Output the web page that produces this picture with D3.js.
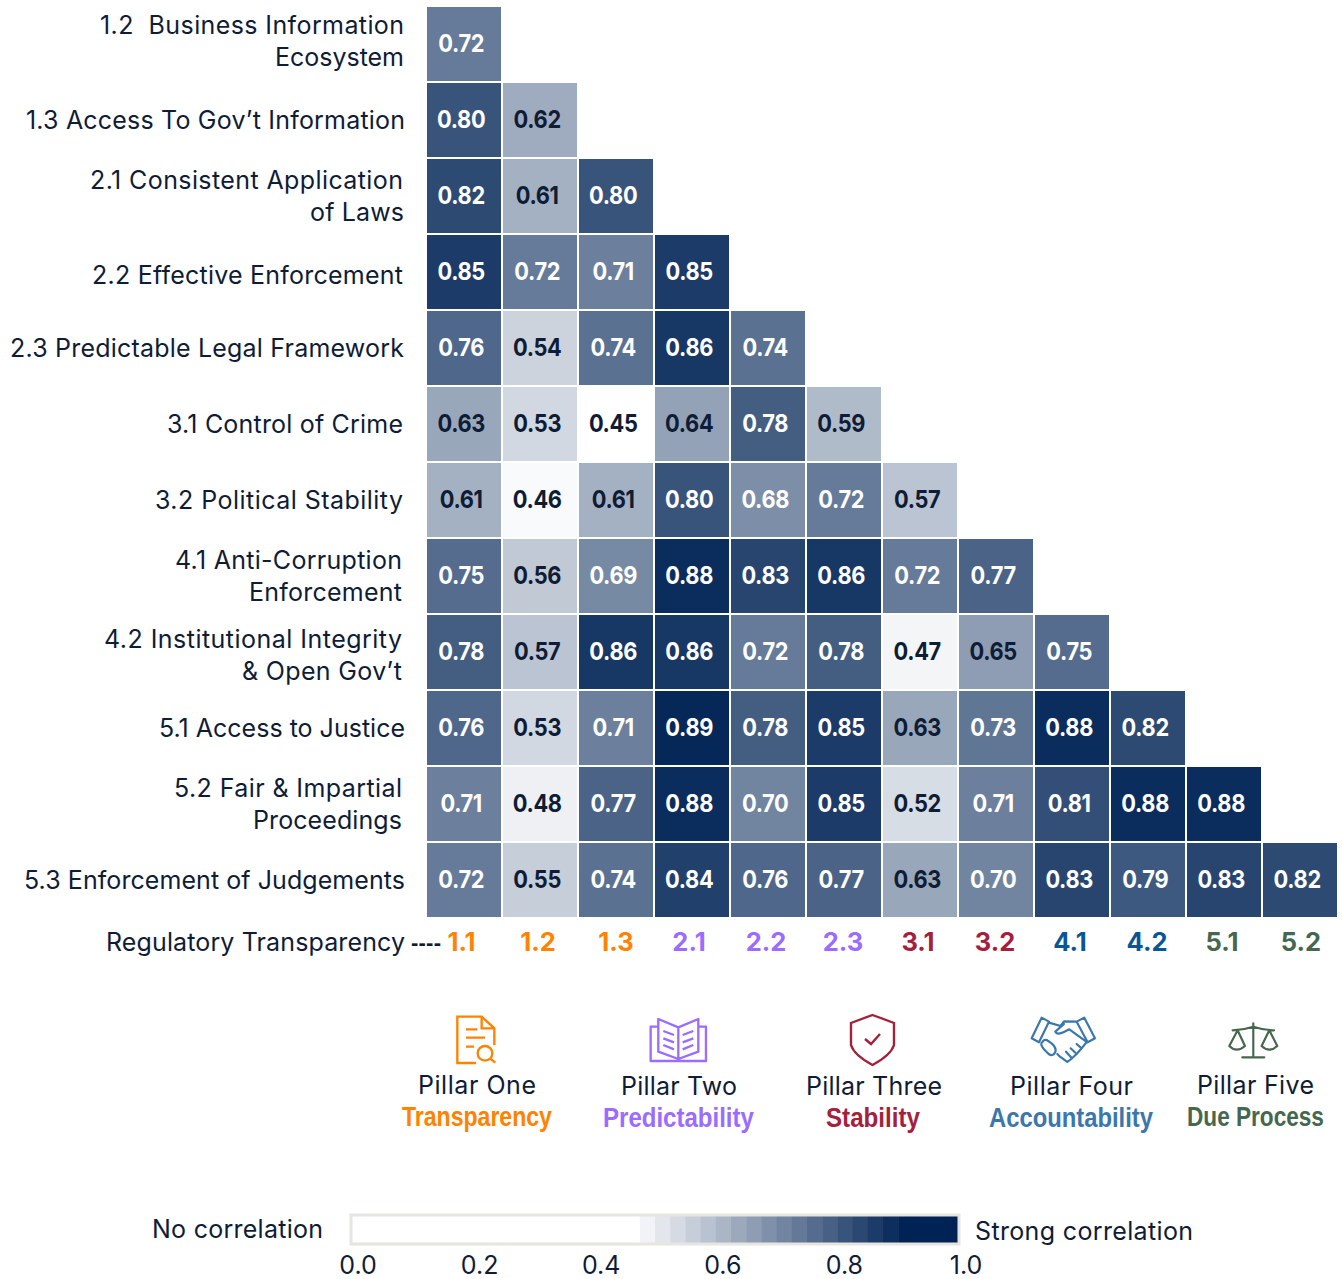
<!DOCTYPE html>
<html><head><meta charset="utf-8">
<script src="https://cdn.jsdelivr.net/npm/d3@7/dist/d3.min.js"></script>
<style>html,body{margin:0;padding:0;background:#fff}svg{display:block}</style></head>
<body><svg id="c" width="1343" height="1279"></svg>
<script>
const columns=["1.1","1.2","1.3","2.1","2.2","2.3","3.1","3.2","4.1","4.2","5.1","5.2"];
const columnPillars=[0,0,0,1,1,1,2,2,3,3,4,4];
const rowLabels=[["1.2  Business Information","Ecosystem"],["1.3 Access To Gov’t Information"],["2.1 Consistent Application","of Laws"],["2.2 Effective Enforcement"],["2.3 Predictable Legal Framework"],["3.1 Control of Crime"],["3.2 Political Stability"],["4.1 Anti-Corruption","Enforcement"],["4.2 Institutional Integrity","& Open Gov’t"],["5.1 Access to Justice"],["5.2 Fair & Impartial","Proceedings"],["5.3 Enforcement of Judgements"]];
const values=[
[0.72],
[0.80,0.62],
[0.82,0.61,0.80],
[0.85,0.72,0.71,0.85],
[0.76,0.54,0.74,0.86,0.74],
[0.63,0.53,0.45,0.64,0.78,0.59],
[0.61,0.46,0.61,0.80,0.68,0.72,0.57],
[0.75,0.56,0.69,0.88,0.83,0.86,0.72,0.77],
[0.78,0.57,0.86,0.86,0.72,0.78,0.47,0.65,0.75],
[0.76,0.53,0.71,0.89,0.78,0.85,0.63,0.73,0.88,0.82],
[0.71,0.48,0.77,0.88,0.70,0.85,0.52,0.71,0.81,0.88,0.88],
[0.72,0.55,0.74,0.84,0.76,0.77,0.63,0.70,0.83,0.79,0.83,0.82]];
const pillarNames=["Pillar One","Pillar Two","Pillar Three","Pillar Four","Pillar Five"];
const pillarThemes=["Transparency","Predictability","Stability","Accountability","Due Process"];
const pillarTickColors=["#ff8200","#9b6cff","#a3213d","#0a5596","#46674f"];
const pillarThemeColors=["#ff8200","#9b6cff","#a3213d","#3a77ad","#46674f"];
const legendTicks=[0,0.2,0.4,0.6,0.8,1];

const INK="#0f1c36", UI="Inter, 'Noto Sans', sans-serif", BOLD="Inter, 'Liberation Sans', sans-serif", NARROW="'Liberation Sans',sans-serif";
const svg=d3.select("#c");
const x=d3.scaleBand().domain(columns).range([426,1338]);
const y=d3.scaleBand().domain(rowLabels.map(d=>d[0])).range([6,918]);
const color=d3.scaleLinear().domain([0.45,0.9]).range(["#ffffff","#002355"]).clamp(true);

// layout only: [left, right, baseline-centre] of each label line as set in the picture
const rowLabelBoxes=[[[100,404,25],[275,404,57]],[[26,405,120]],[[90,403,180],[310,404,212]],[[92,403,275]],[[10,404,348]],[[167,403,424]],[[155,403,500]],[[175,402,560],[249,402,592]],[[104,402,639],[242,402,671]],[[159,405,728]],[[174,402,788],[253,402,820]],[[24,405,880]]];
const tickNudge=[-2.5,-2,0,-3,-2,-1,-2,-1,-2,-1,-2,1];

// cells
const cells=values.flatMap((r,i)=>r.map((v,j)=>({row:rowLabels[i][0],col:columns[j],v})));
const g=svg.append("g");
g.selectAll("rect").data(cells).join("rect")
 .attr("x",d=>x(d.col)+1).attr("y",d=>y(d.row)+1)
 .attr("width",x.bandwidth()-2).attr("height",y.bandwidth()-2)
 .attr("fill",d=>color(d.v));
g.selectAll("text").data(cells).join("text")
 .attr("transform",d=>`translate(${x(d.col)+x.bandwidth()/2-2.8},${y(d.row)+y.bandwidth()/2-0.7}) scale(0.89,1)`)
 .attr("dy","0.36em").attr("text-anchor","middle")
 .attr("font-family",BOLD).attr("font-weight",700).attr("font-size",24.5).attr("letter-spacing",-0.4)
 .attr("fill",d=>d.v>=0.68?"#ffffff":INK).text(d=>d.v.toFixed(2));

function fitted(parent,t,l,r,cy,o={}){
  return parent.append("text").attr("x",l).attr("y",cy).attr("dy","0.36em")
   .attr("textLength",r-l).attr("lengthAdjust","spacing")
   .attr("font-family",o.family||UI).attr("font-weight",o.weight||400).attr("font-size",o.size||25)
   .attr("fill",o.fill||INK).style("white-space","pre").text(t);
}
function squeezed(parent,t,l,r,cy,o={}){
  const el=parent.append("text").attr("dy","0.36em")
   .attr("font-family",o.family||UI).attr("font-weight",o.weight||400).attr("font-size",o.size||25)
   .attr("fill",o.fill||INK).text(t);
  const len=el.node().getComputedTextLength();
  return el.attr("transform",`translate(${l},${cy}) scale(${(r-l)/len},1)`);
}
// row labels
const rl=svg.append("g");
rowLabels.forEach((lines,i)=>lines.forEach((t,k)=>{const b=rowLabelBoxes[i][k];fitted(rl,t,b[0],b[1],b[2]);}));

// column axis
fitted(svg,"Regulatory Transparency",106,405,942);
fitted(svg,"----",411,441,942,{family:"'Liberation Sans',sans-serif",weight:700,size:22});
svg.append("g").selectAll("text").data(columns).join("text")
 .attr("x",(d,i)=>x(d)+x.bandwidth()/2+tickNudge[i]).attr("y",942).attr("dy","0.36em").attr("text-anchor","middle")
 .attr("font-family",BOLD).attr("font-weight",700).attr("font-size",25.5)
 .attr("fill",(d,i)=>pillarTickColors[columnPillars[i]]).text(d=>d);

// pillar captions
const capBoxes=[[418,536,1085],[621,737,1086],[806,942,1086],[1010,1133,1086],[1197,1314,1085]];
const themeBoxes=[[402,552,1116],[603,754,1117],[826,920,1117],[989,1153,1117],[1187,1324,1116]];
pillarNames.forEach((n,i)=>{
  fitted(svg,n,capBoxes[i][0],capBoxes[i][1],capBoxes[i][2]);
  squeezed(svg,pillarThemes[i],themeBoxes[i][0],themeBoxes[i][1],themeBoxes[i][2],{family:NARROW,weight:700,size:27,fill:pillarThemeColors[i]});
});

// icons
const ico1=svg.append("g").attr("transform","translate(400,920) scale(0.3333)").attr("fill","none").attr("stroke-width",7);
ico1.append("path").attr("stroke",pillarThemeColors[0]).attr("d","M228 429H172V290H245L283 325V376M245 290V325H283M198 328H232M198 353H255M198 380H222M271 416L286 428");
ico1.append("circle").attr("stroke",pillarThemeColors[0]).attr("cx",255).attr("cy",400).attr("r",22);
ico1.append("path").attr("stroke",pillarThemeColors[1]).attr("stroke-linejoin","round").attr("d","M775 320H752V423H918V320H895M775 297L835 322V417L775 395ZM895 297L835 322V417L895 395ZM790 333L822 345M790 355L822 367M790 375L822 388M848 345L880 333M848 367L880 355M848 388L880 375");
svg.append("path").attr("fill","none").attr("stroke",pillarThemeColors[2]).attr("stroke-width",2.4)
 .attr("d","M872.5 1015L894 1023V1045Q891 1055 872.5 1065Q854 1055 851 1045V1023ZM865 1039L871 1044L880 1034");
const ico2=svg.append("g").attr("transform","translate(860,920) scale(0.3333)").attr("fill","none").attr("stroke-width",6.5).attr("stroke-linejoin","round").attr("stroke-linecap","round");
ico2.append("path").attr("stroke",pillarThemeColors[3]).attr("d","M545 293L567 305L537 367L515 355ZM673 293L705 355L683 367L650 305ZM567 308L602 318L612 304L650 305M612 312L586 335Q592 346 612 336L628 328L680 366L665 385M665 385L650 372M665 385L650 402L632 385M650 402L636 415L618 395M636 415L622 426L600 410L592 402M548 365Q538 372 552 388L566 402Q578 410 585 398Q592 385 575 370L560 360Q552 358 548 365Z");
ico2.append("path").attr("stroke",pillarThemeColors[4]).attr("d","M1180 310V412M1147 412H1213M1118 331Q1150 330 1180 320Q1210 330 1242 331M1133 331L1108 378Q1130 400 1155 378ZM1228 331L1205 378Q1228 400 1252 378Z");

// legend
const lx=d3.scaleLinear().domain([0,1]).range([351,959]);
const lg=svg.append("g");
const binW=0.025, bins=d3.range(0.475,0.91,binW);
lg.append("rect").attr("x",lx(0)).attr("y",1215).attr("width",lx(1)-lx(0)).attr("height",29).attr("fill","#fff");
lg.selectAll("rect.b").data(bins).join("rect").attr("class","b")
 .attr("x",d=>lx(d)).attr("y",1215).attr("height",29)
 .attr("width",(d,i)=>i===bins.length-1?lx(1)-lx(d):lx(d+binW)-lx(d)+0.5).attr("fill",d=>color(d));
lg.append("rect").attr("x",lx(0)).attr("y",1215).attr("width",lx(1)-lx(0)).attr("height",29).attr("fill","none").attr("stroke","#e8e4e1").attr("stroke-width",3);
const tx=d3.scaleLinear().domain([0,1]).range([358,966]);
svg.append("g").selectAll("text").data(legendTicks).join("text")
 .attr("x",d=>tx(d)).attr("y",1265).attr("dy","0.36em").attr("text-anchor","middle")
 .attr("font-family",UI).attr("font-size",25).attr("fill",INK).text(d=>d.toFixed(1));
fitted(svg,"No correlation",152,323,1229);
fitted(svg,"Strong correlation",975,1193,1231);
</script></body></html>
